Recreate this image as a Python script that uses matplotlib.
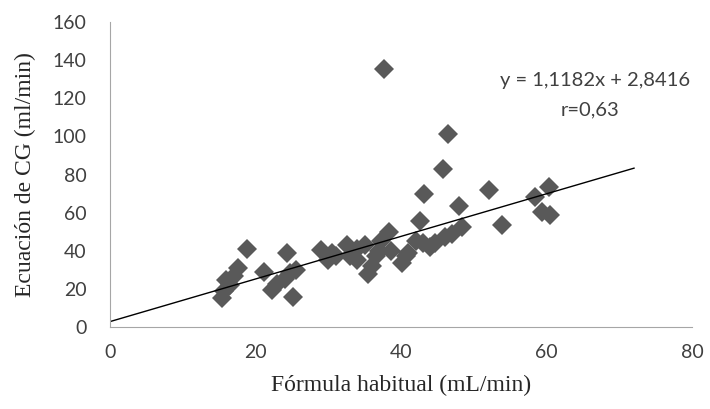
import numpy as np
import matplotlib
matplotlib.use("Agg")
import matplotlib.pyplot as plt

# datos
formula_habitual = [15.4, 15.6, 16.0, 16.5, 17.0, 17.6, 18.8, 21.1, 22.2, 23.0,
                    24.3, 24.0, 24.7, 25.2, 25.6, 29.0, 30.0, 30.5, 31.0, 32.5,
                    33.0, 34.0, 34.0, 35.0, 35.5, 36.0, 36.5, 37.0, 37.2, 37.7,
                    38.3, 38.6, 40.1, 40.6, 41.0, 42.0, 42.6, 43.1, 43.0, 44.0,
                    44.6, 45.8, 46.4, 46.0, 47.0, 48.0, 48.3, 52.1, 53.9, 58.4,
                    59.3, 60.3, 60.5]
ecuacion_cg = [15.0, 19.0, 24.7, 22.0, 27.0, 30.8, 40.8, 29.0, 19.4, 22.5,
               38.7, 25.0, 28.2, 16.0, 30.0, 40.4, 35.0, 39.0, 37.0, 43.0,
               37.0, 41.0, 35.0, 43.0, 28.0, 32.0, 37.0, 40.0, 45.0, 135.4,
               50.0, 40.0, 33.4, 37.0, 39.0, 45.0, 55.8, 69.8, 44.0, 42.0,
               44.0, 82.9, 101.3, 47.0, 49.0, 63.6, 52.6, 71.9, 53.5, 68.4,
               60.5, 73.4, 58.8]

pendiente = 1.1182
intercepto = 2.8416
x_tendencia = np.array([0, 72])

fig = plt.figure(figsize=(7.1, 4.09), dpi=100)
ax = fig.add_axes([0.155, 0.2005, 0.82, 0.7455])

ax.plot(formula_habitual, ecuacion_cg, linestyle='none', marker='D',
        markersize=10, color='#595959', markeredgewidth=0)
ax.plot(x_tendencia, pendiente * x_tendencia + intercepto, color='black', linewidth=1)

ax.set_xlim(0, 80)
ax.set_ylim(0, 160)
ax.set_xticks(range(0, 81, 20))
ax.set_yticks(range(0, 161, 20))
ax.tick_params(length=0, labelsize=14, labelcolor='#404040')
ax.tick_params(axis='x', pad=12)
ax.tick_params(axis='y', pad=17)
for lbl in ax.get_xticklabels() + ax.get_yticklabels():
    lbl.set_family('Lato')

for lado in ['top', 'right']:
    ax.spines[lado].set_visible(False)
for lado in ['left', 'bottom']:
    ax.spines[lado].set_color('#a6a6a6')

ax.set_xlabel('Fórmula habitual (mL/min)', family='Liberation Serif', fontsize=17,
              color='#262626', labelpad=10)
ax.set_ylabel('Ecuación de CG (ml/min)', family='Liberation Serif', fontsize=17,
              color='#262626', labelpad=12)

ax.text(0.833, 0.81, 'y = 1,1182x + 2,8416', transform=ax.transAxes, ha='center',
        va='center', family='Lato', fontsize=14.5, color='#404040')
ax.text(0.825, 0.711, 'r=0,63', transform=ax.transAxes, ha='center',
        va='center', family='Lato', fontsize=14.5, color='#404040')

plt.savefig('out.png', dpi=100)
